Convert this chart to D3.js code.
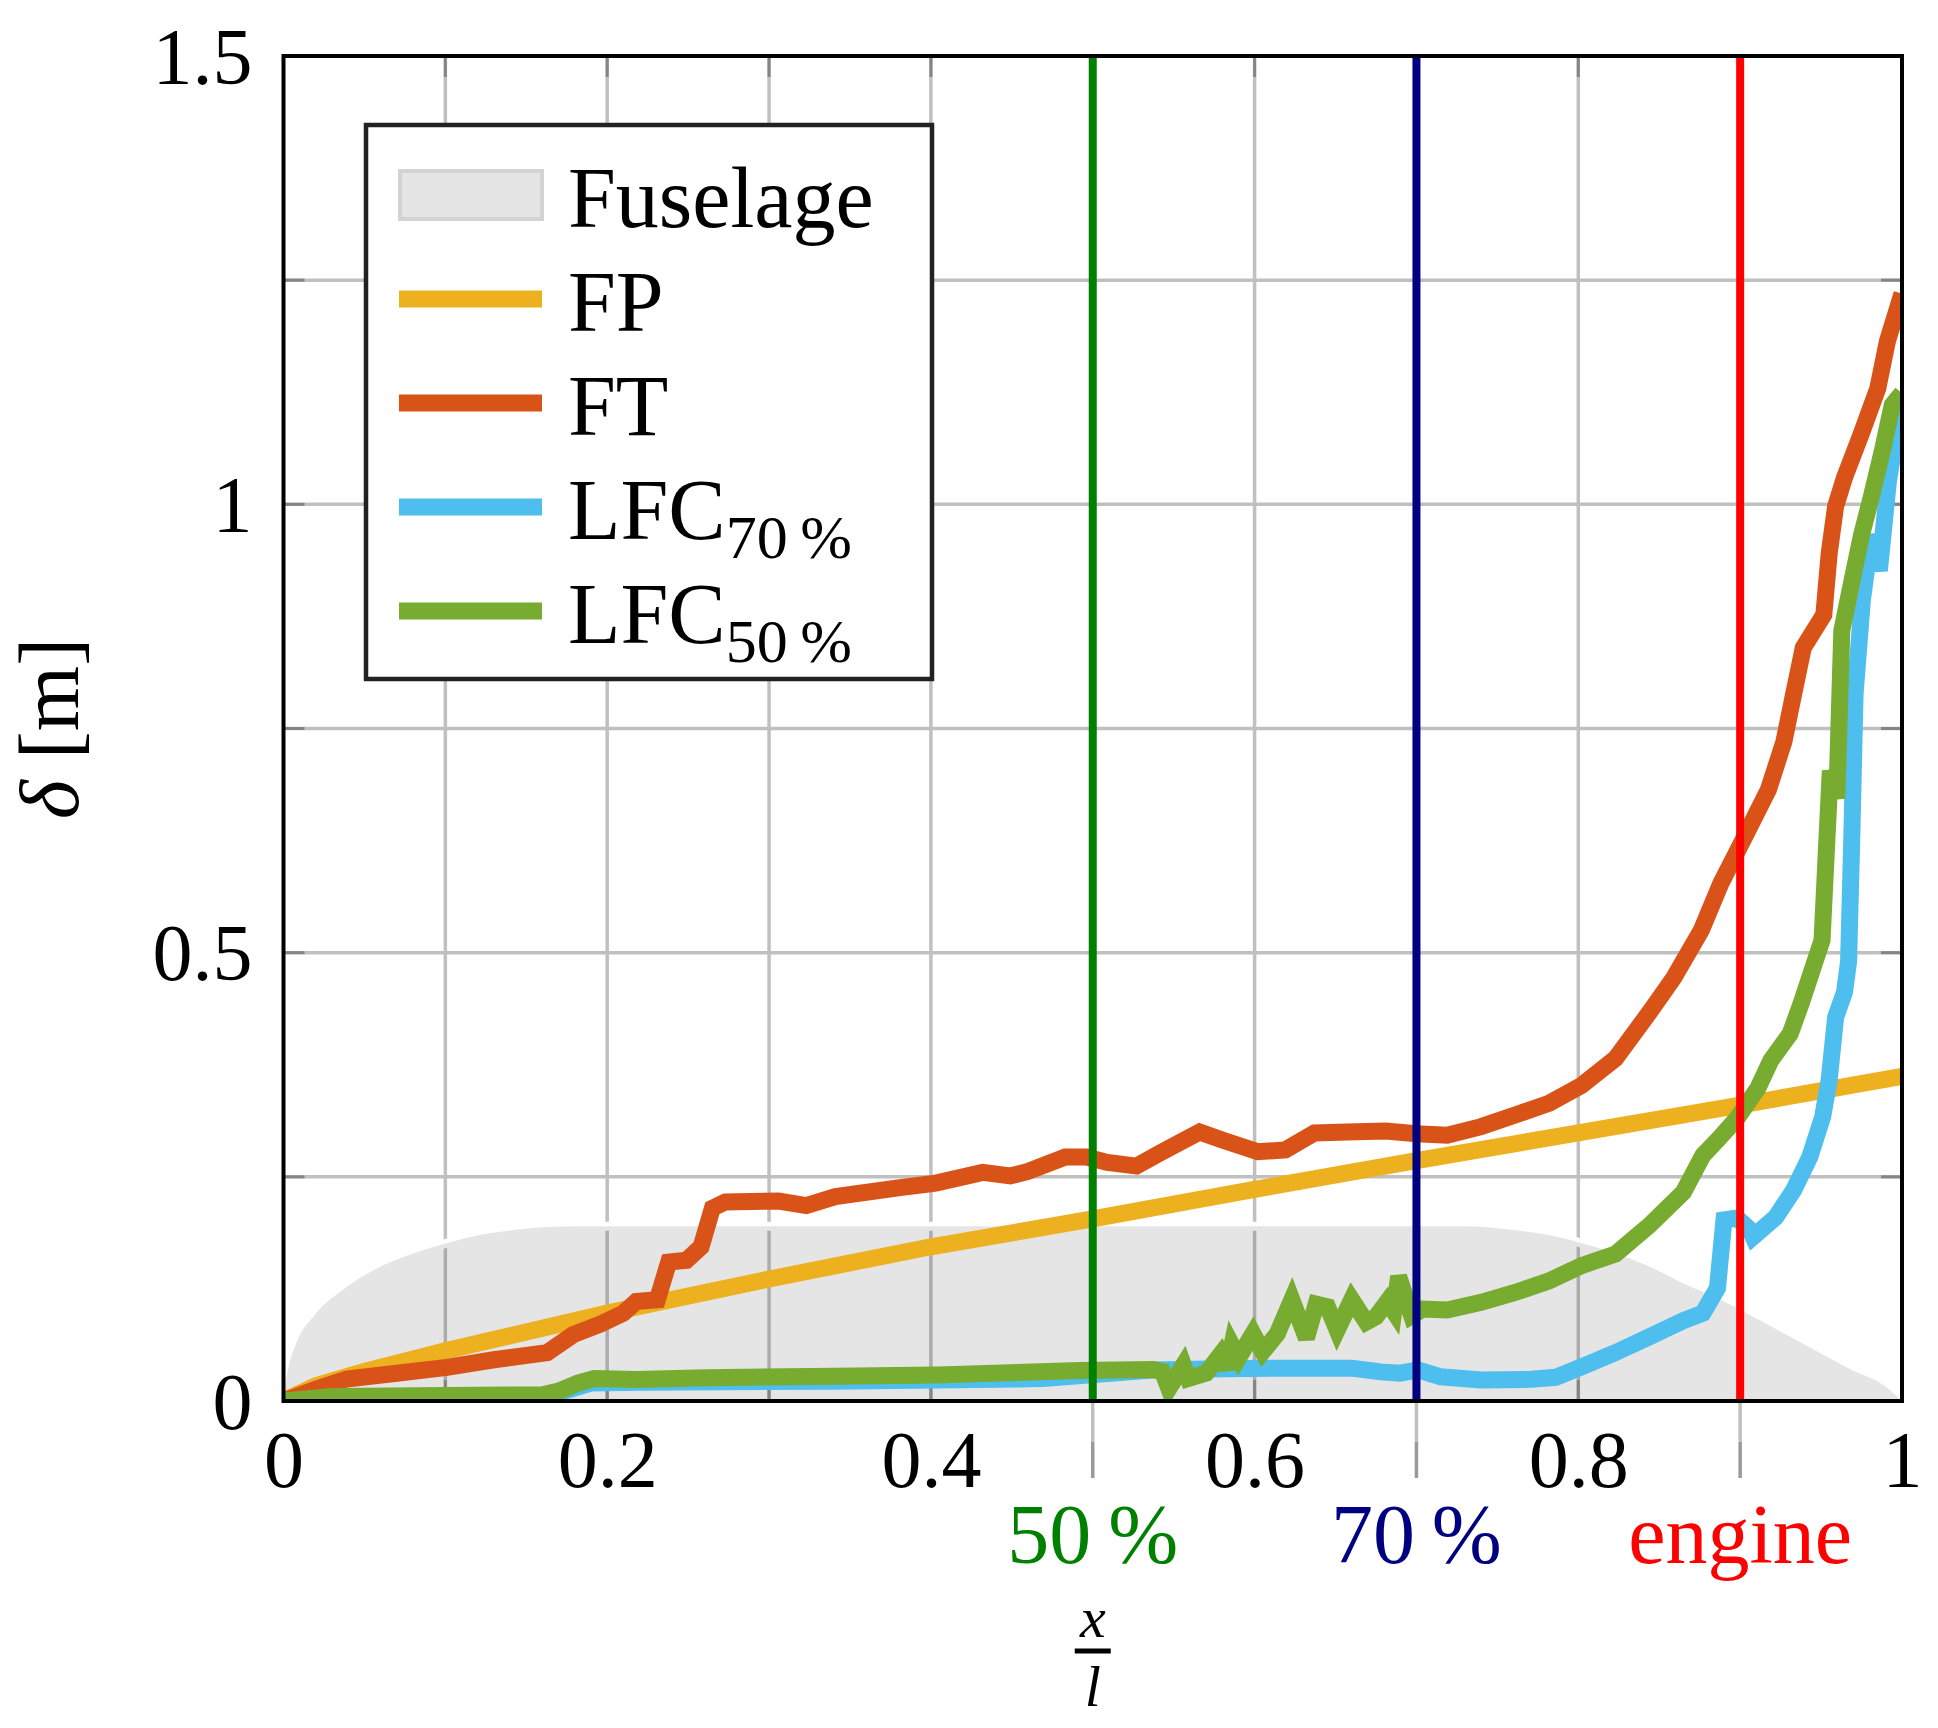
<!DOCTYPE html>
<html>
<head>
<meta charset="utf-8">
<script src="https://cdn.jsdelivr.net/npm/d3@7"></script>
<style>
  body { margin: 0; background: #fff; }
  svg { display: block; }
  text { font-family: "Liberation Serif", "Times New Roman", serif; }
</style>
</head>
<body>
<svg id="chart" width="1938" height="1728"></svg>
<script>
  // ============================================================
  // Data
  // ============================================================

  const fuselage = [[0, 0], [0.002, 0.027], [0.008, 0.065], [0.0184, 0.094], [0.039, 0.127], [0.06, 0.150],
    [0.08, 0.1646], [0.101, 0.176], [0.121, 0.185], [0.142, 0.1906], [0.163, 0.194], [0.183, 0.195],
    [0.73, 0.195], [0.761, 0.1906], [0.782, 0.185], [0.802, 0.176], [0.823, 0.1646], [0.844, 0.15],
    [0.865, 0.131], [0.886, 0.1145], [0.906, 0.096], [0.927, 0.0755], [0.948, 0.055], [0.969, 0.0346],
    [0.99, 0.016], [1, 0]];

  const fp = [[0, 0], [0.02, 0.017], [0.05, 0.033], [0.1, 0.056], [0.2, 0.098], [0.3, 0.136],
    [0.4, 0.172], [0.5, 0.203], [0.6, 0.236], [0.7, 0.268], [0.8, 0.299], [0.9, 0.330], [1, 0.362]];

  const ft = [[0, 0], [0.02, 0.013], [0.039, 0.0245], [0.07, 0.031], [0.101, 0.0375], [0.13, 0.046],
    [0.163, 0.054], [0.179, 0.074], [0.196, 0.086], [0.21, 0.098], [0.218, 0.111], [0.231, 0.113],
    [0.238, 0.155], [0.249, 0.157], [0.258, 0.172], [0.265, 0.215], [0.273, 0.222], [0.306, 0.223],
    [0.323, 0.218], [0.341, 0.228], [0.381, 0.238], [0.403, 0.243], [0.432, 0.255], [0.449, 0.251],
    [0.46, 0.256], [0.483, 0.272], [0.496, 0.272], [0.509, 0.266], [0.527, 0.262], [0.542, 0.277],
    [0.566, 0.30], [0.58, 0.291], [0.602, 0.278], [0.619, 0.280], [0.637, 0.299], [0.657, 0.300],
    [0.681, 0.301], [0.70, 0.298], [0.719, 0.2965], [0.74, 0.306], [0.761, 0.319], [0.782, 0.332],
    [0.802, 0.352], [0.823, 0.382], [0.845, 0.436], [0.859, 0.472], [0.876, 0.525], [0.888, 0.577],
    [0.903, 0.63], [0.9175, 0.682], [0.927, 0.735], [0.933, 0.788], [0.939, 0.84], [0.9517, 0.877],
    [0.955, 0.945], [0.959, 0.998], [0.9645, 1.03], [0.9745, 1.077], [0.985, 1.129], [0.991, 1.182],
    [1, 1.235]];

  const lfc70 = [[0, 0], [0.1, 0.004], [0.16, 0.005], [0.175, 0.012], [0.19, 0.02], [0.22, 0.021],
    [0.34, 0.022], [0.469, 0.025], [0.537, 0.0345], [0.581, 0.036], [0.625, 0.0366], [0.66, 0.0366],
    [0.678, 0.0325], [0.69, 0.031], [0.701, 0.0346], [0.715, 0.027], [0.74, 0.0234], [0.771, 0.0242],
    [0.786, 0.0264], [0.802, 0.038], [0.823, 0.054], [0.844, 0.0717], [0.865, 0.0896], [0.877, 0.098],
    [0.886, 0.126], [0.89, 0.202], [0.898, 0.204], [0.906, 0.191], [0.908, 0.183], [0.922, 0.205],
    [0.933, 0.235], [0.943, 0.272], [0.951, 0.317], [0.955, 0.358], [0.959, 0.428], [0.9645, 0.456],
    [0.967, 0.49], [0.969, 0.63], [0.971, 0.788], [0.9755, 0.893], [0.981, 0.966], [0.986, 0.926],
    [0.9915, 1.024], [0.998, 1.10], [1, 1.12]];

  const lfc50 = [[0, 0], [0.03, 0.005], [0.1, 0.006], [0.16, 0.007], [0.17, 0.011], [0.182, 0.02],
    [0.192, 0.025], [0.218, 0.024], [0.261, 0.026], [0.341, 0.0275], [0.404, 0.029], [0.492, 0.034],
    [0.537, 0.035], [0.543, 0.033], [0.547, 0.014], [0.556, 0.040], [0.559, 0.025], [0.57, 0.031],
    [0.579, 0.052], [0.583, 0.036], [0.586, 0.062], [0.59, 0.048], [0.599, 0.075], [0.605, 0.055],
    [0.614, 0.075], [0.623, 0.113], [0.632, 0.070], [0.638, 0.108], [0.645, 0.105], [0.651, 0.079],
    [0.66, 0.113], [0.669, 0.088], [0.675, 0.094], [0.682, 0.111], [0.686, 0.100], [0.689, 0.139],
    [0.697, 0.095], [0.704, 0.1026], [0.719, 0.1015], [0.74, 0.110], [0.761, 0.121], [0.782, 0.134],
    [0.802, 0.151], [0.823, 0.164], [0.844, 0.196], [0.865, 0.233], [0.877, 0.274], [0.886, 0.291],
    [0.898, 0.315], [0.911, 0.349], [0.919, 0.380], [0.931, 0.41], [0.938, 0.445], [0.9506, 0.514],
    [0.9537, 0.63], [0.9557, 0.703], [0.9597, 0.672], [0.9628, 0.859], [0.969, 0.914], [0.975, 0.966],
    [0.981, 1.008], [0.988, 1.061], [0.994, 1.111], [1, 1.124]];

  const xTicks = [0, 0.2, 0.4, 0.6, 0.8, 1];
  const yTicks = [0, 0.5, 1, 1.5];
  const xMinor = [0.1, 0.2, 0.3, 0.4, 0.5, 0.6, 0.7, 0.8, 0.9];
  const yMinor = [0.25, 0.5, 0.75, 1, 1.25];

  const markerX = [0.5, 0.7, 0.9];
  const markerLabels = ["50\u2009%", "70\u2009%", "engine"];
  const markerColors = ["#008000", "#000080", "#ff0000"];

  const seriesData = [fp, ft, lfc70, lfc50];
  const seriesColors = ["#edb120", "#d95319", "#4dbeee", "#77ac30"];

  const legendNames = ["Fuselage", "FP", "FT", "LFC", "LFC"];
  const legendSubs = ["", "", "", "70\u2009%", "50\u2009%"];

  // ============================================================
  // Layout
  // ============================================================

  const svg = d3.select("#chart");
  const plot = { left: 283.5, right: 1902, top: 56, bottom: 1401 };

  const x = d3.scaleLinear().domain([0, 1]).range([plot.left, plot.right]);
  const y = d3.scaleLinear().domain([0, 1.5]).range([plot.bottom, plot.top]);

  svg.append("rect").attr("width", 1938).attr("height", 1728).attr("fill", "#fff");

  svg.append("clipPath").attr("id", "plot-clip")
    .append("rect")
    .attr("x", plot.left).attr("y", plot.top)
    .attr("width", plot.right - plot.left).attr("height", plot.bottom - plot.top);

  // Grid
  const grid = svg.append("g").attr("stroke", "#c0c0c0").attr("stroke-width", 3.5);
  grid.selectAll(".gx").data(xMinor).join("line")
    .attr("x1", d => x(d)).attr("x2", d => x(d))
    .attr("y1", plot.top).attr("y2", plot.bottom);
  grid.selectAll(".gy").data(yMinor).join("line")
    .attr("x1", plot.left).attr("x2", plot.right)
    .attr("y1", d => y(d)).attr("y2", d => y(d));

  // Fuselage silhouette
  const fusArea = d3.area()
    .x(d => x(d[0])).y0(y(0)).y1(d => y(d[1]))
    .curve(d3.curveMonotoneX);
  const fusLine = d3.line()
    .x(d => x(d[0])).y(d => y(d[1]))
    .curve(d3.curveMonotoneX);

  svg.append("path").datum(fuselage)
    .attr("d", fusLine)
    .attr("fill", "none").attr("stroke", "#fff").attr("stroke-width", 9);
  svg.append("path").datum(fuselage)
    .attr("d", fusArea)
    .attr("fill", "#000").attr("fill-opacity", 0.1);

  // Inner ticks on all four sides
  const ticks = svg.append("g").attr("stroke", "#858585").attr("stroke-width", 3);
  ticks.selectAll(".tb").data(xMinor).join("line")
    .attr("x1", d => x(d)).attr("x2", d => x(d))
    .attr("y1", plot.bottom).attr("y2", plot.bottom - 21);
  ticks.selectAll(".tt").data(xMinor).join("line")
    .attr("x1", d => x(d)).attr("x2", d => x(d))
    .attr("y1", plot.top).attr("y2", plot.top + 21);
  ticks.selectAll(".tl").data(yMinor).join("line")
    .attr("x1", plot.left).attr("x2", plot.left + 21)
    .attr("y1", d => y(d)).attr("y2", d => y(d));
  ticks.selectAll(".tr").data(yMinor).join("line")
    .attr("x1", plot.right).attr("x2", plot.right - 21)
    .attr("y1", d => y(d)).attr("y2", d => y(d));

  // Data lines
  const line = d3.line().x(d => x(d[0])).y(d => y(d[1]));
  svg.append("g").attr("clip-path", "url(#plot-clip)")
    .selectAll("path").data(seriesData).join("path")
    .attr("d", line)
    .attr("fill", "none")
    .attr("stroke", (d, i) => seriesColors[i])
    .attr("stroke-width", 17)
    .attr("stroke-linejoin", "miter")
    .attr("stroke-miterlimit", 3);

  // Marker lines (50 %, 70 %, engine)
  svg.append("g").selectAll("line").data(markerX).join("line")
    .attr("x1", d => x(d)).attr("x2", d => x(d))
    .attr("y1", plot.top).attr("y2", plot.bottom)
    .attr("stroke", (d, i) => markerColors[i])
    .attr("stroke-width", 8);

  // extra ticks below the axis at the markers
  const extra = svg.append("g").attr("stroke-width", 3.5);
  extra.selectAll(".e1").data(markerX).join("line")
    .attr("x1", d => x(d)).attr("x2", d => x(d))
    .attr("y1", plot.bottom).attr("y2", plot.bottom + 41)
    .attr("stroke", "#c0c0c0");
  extra.selectAll(".e2").data(markerX).join("line")
    .attr("x1", d => x(d)).attr("x2", d => x(d))
    .attr("y1", plot.bottom + 41).attr("y2", plot.bottom + 77)
    .attr("stroke", "#999");

  // Frame
  svg.append("rect")
    .attr("x", plot.left).attr("y", plot.top)
    .attr("width", plot.right - plot.left).attr("height", plot.bottom - plot.top)
    .attr("fill", "none").attr("stroke", "#000").attr("stroke-width", 4);

  // Axes (labels only)
  const fmt = d3.format("~g");
  const xAxis = svg.append("g")
    .attr("transform", `translate(0,${plot.bottom})`)
    .call(d3.axisBottom(x).tickValues(xTicks).tickFormat(fmt).tickSize(0));
  xAxis.select(".domain").remove();
  xAxis.selectAll("text")
    .attr("y", 86).attr("dy", null)
    .attr("font-size", 80).attr("fill", "#000")
    .style("font-family", "'Liberation Serif', serif");

  const yAxis = svg.append("g")
    .attr("transform", `translate(${plot.left},0)`)
    .call(d3.axisLeft(y).tickValues(yTicks).tickFormat(fmt).tickSize(0));
  yAxis.select(".domain").remove();
  yAxis.selectAll("text")
    .attr("x", -31).attr("dy", "0.34em")
    .attr("font-size", 80).attr("fill", "#000")
    .style("font-family", "'Liberation Serif', serif");

  // Marker labels under the axis
  svg.append("g").selectAll("text").data(markerX).join("text")
    .attr("x", d => x(d)).attr("y", 1563)
    .attr("text-anchor", "middle")
    .attr("font-size", 84)
    .attr("fill", (d, i) => markerColors[i])
    .text((d, i) => markerLabels[i]);

  // x label: x over l
  const xl = svg.append("g").attr("transform", `translate(${(plot.left + plot.right) / 2},0)`);
  xl.append("text").attr("y", 1637).attr("text-anchor", "middle")
    .attr("font-size", 58).attr("font-style", "italic").text("x");
  xl.append("line").attr("x1", -18).attr("x2", 18).attr("y1", 1651).attr("y2", 1651)
    .attr("stroke", "#000").attr("stroke-width", 5);
  xl.append("text").attr("y", 1706).attr("text-anchor", "middle")
    .attr("font-size", 58).attr("font-style", "italic").text("l");

  // y label
  const yl = svg.append("text")
    .attr("transform", `translate(78,${(plot.top + plot.bottom) / 2}) rotate(-90)`)
    .attr("text-anchor", "middle")
    .attr("font-size", 84);
  yl.append("tspan").attr("font-style", "italic").text("\u03b4");
  yl.append("tspan").text(" [m]");

  // ============================================================
  // Legend
  // ============================================================

  const legend = svg.append("g");
  legend.append("rect")
    .attr("x", 366).attr("y", 125).attr("width", 566).attr("height", 554)
    .attr("fill", "#fff").attr("stroke", "#222").attr("stroke-width", 4.5);

  const rowY = d3.scaleLinear().domain([0, 4]).range([195, 611]);

  legendNames.forEach((name, i) => {
    const cy = rowY(i);
    if (i === 0) {
      legend.append("rect")
        .attr("x", 400).attr("y", cy - 24).attr("width", 142).attr("height", 48)
        .attr("fill", "#e5e5e5").attr("stroke", "#d3d3d3").attr("stroke-width", 4);
    } else {
      legend.append("line")
        .attr("x1", 399).attr("x2", 542).attr("y1", cy).attr("y2", cy)
        .attr("stroke", seriesColors[i - 1]).attr("stroke-width", 17);
    }
    const t = legend.append("text")
      .attr("x", 568).attr("y", cy + 32)
      .attr("font-size", 86).attr("fill", "#000");
    t.append("tspan").text(name);
    if (legendSubs[i]) {
      t.append("tspan").attr("dy", 19).attr("font-size", 62).text(legendSubs[i]);
    }
  });
</script>
</body>
</html>
